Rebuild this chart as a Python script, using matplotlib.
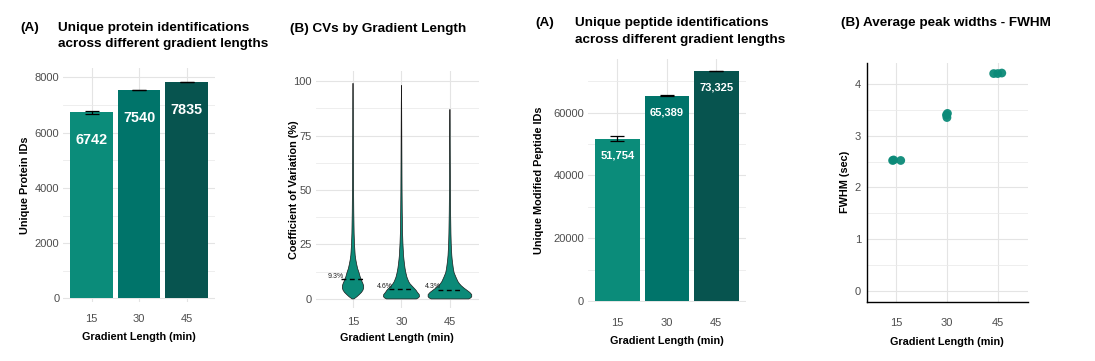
import matplotlib
matplotlib.use("Agg")
import matplotlib.pyplot as plt
from matplotlib.ticker import FixedLocator

plt.rcParams['font.family'] = ['Liberation Sans', 'DejaVu Sans']

W, H = 1095, 361

# ---- data ----
gradients = ["15", "30", "45"]
protein_ids = [6742, 7540, 7835]
protein_err = [55, 12, 10]
peptide_ids = [51754, 65389, 73325]
peptide_err = [700, 120, 100]
bar_colors = ["#0B8C7A", "#00746A", "#07544F"]

# violin outlines: CV level (%) and half width (x units) per gradient
cv_levels_15 = [0, 1, 2, 3, 4, 5, 6, 7, 8, 9, 10, 12, 14, 16, 18, 20, 25, 30, 40, 50, 60, 70, 80, 90, 99]
cv_width_15 = [0.02, 0.08, 0.13, 0.175, 0.205, 0.22, 0.22, 0.205, 0.185, 0.17, 0.15, 0.125, 0.095,
               0.075, 0.058, 0.045, 0.031, 0.023, 0.016, 0.012, 0.01, 0.008, 0.006, 0.004, 0]
cv_levels_30 = [0, 0.5, 1, 2, 3, 4, 5, 6, 7, 8, 10, 12, 14, 16, 18, 20, 25, 30, 40, 50, 60, 70, 80, 90, 98]
cv_width_30 = [0.31, 0.35, 0.37, 0.367, 0.33, 0.3, 0.258, 0.216, 0.175, 0.148, 0.113, 0.091, 0.074,
               0.062, 0.052, 0.043, 0.031, 0.023, 0.016, 0.012, 0.01, 0.008, 0.006, 0.004, 0]
cv_levels_45 = [0, 0.5, 1, 2, 3, 4, 5, 6, 7, 8, 10, 12, 14, 16, 18, 20, 25, 30, 40, 50, 60, 70, 80, 87]
cv_width_45 = [0.39, 0.43, 0.45, 0.45, 0.41, 0.35, 0.29, 0.237, 0.196, 0.165, 0.124, 0.087, 0.07,
               0.058, 0.047, 0.039, 0.027, 0.021, 0.014, 0.01, 0.008, 0.006, 0.004, 0]
cv_medians = [9.3, 4.6, 4.3]
violin_color = "#0B8A78"

# FWHM replicates (x jitter)
fwhm_group = [1, 1, 1, 2, 2, 2, 3, 3, 3]
fwhm_jitter = [-0.07, -0.05, 0.09, 0.0, -0.01, 0.01, -0.08, 0.0, 0.08]
fwhm_sec = [2.52, 2.53, 2.52, 3.35, 3.40, 3.43, 4.20, 4.20, 4.21]

TITLE = 9.7
LAB = 7.8
TICK = 8.0
GREY = "#4d4d4d"

fig = plt.figure(figsize=(W / 100, H / 100), dpi=100)


def make_axes(x0, y0, x1, y1):
    ax = fig.add_axes([x0 / W, (H - y1) / H, (x1 - x0) / W, (y1 - y0) / H])
    ax._px = (x0, y0, x1, y1)
    return ax


def style(ax, minor_y, xpad, ypad):
    for s in ax.spines.values():
        s.set_visible(False)
    ax.set_axisbelow(True)
    ax.yaxis.set_minor_locator(FixedLocator(minor_y))
    ax.grid(True, which='major', color='#e4e4e4', lw=0.8)
    ax.grid(True, which='minor', axis='y', color='#ebebeb', lw=0.6)
    ax.tick_params(which='both', length=0, labelsize=TICK, labelcolor=GREY)
    ax.tick_params(axis='x', pad=xpad)
    ax.tick_params(axis='y', pad=ypad)


def labels(ax, xlab, ylab, xl_y, yl_x):
    x0, y0, x1, y1 = ax._px
    ax.set_xlabel(xlab, fontsize=LAB, fontweight='bold')
    ax.set_ylabel(ylab, fontsize=LAB, fontweight='bold')
    ax.xaxis.label.set_va('center')
    ax.yaxis.label.set_va('center')
    ax.xaxis.set_label_coords(0.5, (y1 - xl_y) / (y1 - y0))
    ax.yaxis.set_label_coords((yl_x - x0) / (x1 - x0), 0.5)


def ftext(x, y, s, **kw):
    fig.text(x / W, 1 - y / H, s, fontsize=TITLE, fontweight='bold', va='center', **kw)


xs = [1, 2, 3]

# ---- panel 1: protein IDs ----
ax1 = make_axes(63, 68, 215, 301.7)
ax1.bar(xs, protein_ids, width=0.9, color=bar_colors, zorder=2)
ax1.errorbar(xs, protein_ids, yerr=protein_err, fmt='none', ecolor='black', elinewidth=0.9,
             capsize=5, capthick=0.9, zorder=3)
for x, v in zip(xs, protein_ids):
    ax1.annotate(str(v), (x, v), xytext=(0, -20), textcoords='offset points', ha='center',
                 va='center', color='white', fontsize=10.4, fontweight='bold', zorder=4)
ax1.set_xlim(0.4, 3.6)
ax1.set_ylim(-120, 8340)
ax1.set_xticks(xs, gradients)
ax1.set_yticks([0, 2000, 4000, 6000, 8000])
style(ax1, [1000, 3000, 5000, 7000], 9, 2.7)
labels(ax1, "Gradient Length (min)", "Unique Protein IDs", 336.7, 25)
ftext(20, 28, "(A)")
ftext(58, 28, "Unique protein identifications")
ftext(58, 44, "across different gradient lengths")

# ---- panel 2: CV violins ----
ax2 = make_axes(315.7, 71, 479, 308.3)
for x, lv, wd in zip(xs, [cv_levels_15, cv_levels_30, cv_levels_45],
                     [cv_width_15, cv_width_30, cv_width_45]):
    left = [x - w for w in wd]
    right = [x + w for w in wd]
    ax2.fill(left + right[::-1], lv + lv[::-1], facecolor=violin_color, edgecolor='#1a1a1a',
             lw=0.5, zorder=2)
for x, m in zip(xs, cv_medians):
    ax2.plot([x - 0.25, x + 0.25], [m, m], color='black', ls=(0, (3.5, 2.5)), lw=1.0, zorder=3)
    ax2.text(x - 0.35, m + 0.5, f"{m}%", fontsize=5, ha='center', va='baseline', color='#222222',
             zorder=4)
ax2.set_xlim(0.23, 3.6)
ax2.set_ylim(-4.3, 104.6)
ax2.set_xticks(xs, gradients)
ax2.set_yticks([0, 25, 50, 75, 100])
style(ax2, [12.5, 37.5, 62.5, 87.5], 6, 3)
labels(ax2, "Gradient Length (min)", "Coefficient of Variation (%)", 338, 294)
ftext(290, 29, "(B) CVs by Gradient Length")

# ---- panel 3: peptide IDs ----
ax3 = make_axes(587.7, 59.3, 746, 301.7)
ax3.bar(xs, peptide_ids, width=0.9, color=bar_colors, zorder=2)
ax3.errorbar(xs, peptide_ids, yerr=peptide_err, fmt='none', ecolor='black', elinewidth=0.9,
             capsize=5.3, capthick=0.9, zorder=3)
for x, v in zip(xs, peptide_ids):
    ax3.annotate(f"{v:,}", (x, v), xytext=(0, -11.9), textcoords='offset points', ha='center',
                 va='center', color='white', fontsize=8, fontweight='bold', zorder=4)
ax3.set_xlim(0.4, 3.6)
ax3.set_ylim(-220, 77000)
ax3.set_xticks(xs, gradients)
ax3.set_yticks([0, 20000, 40000, 60000])
style(ax3, [10000, 30000, 50000, 70000], 11.5, 2.7)
labels(ax3, "Gradient Length (min)", "Unique Modified Peptide IDs", 340.8, 539)
ftext(535, 23, "(A)")
ftext(575, 23, "Unique peptide identifications")
ftext(575, 40, "across different gradient lengths")

# ---- panel 4: FWHM ----
ax4 = make_axes(866.7, 62.7, 1027.7, 301.7)
ax4.scatter([g + j for g, j in zip(fwhm_group, fwhm_jitter)], fwhm_sec, s=40, color=violin_color,
            edgecolors='none', alpha=0.95, zorder=3)
ax4.set_xlim(0.42, 3.59)
ax4.set_ylim(-0.21, 4.41)
ax4.set_xticks(xs, gradients)
ax4.set_yticks([0, 1, 2, 3, 4])
style(ax4, [0.5, 1.5, 2.5, 3.5], 12, 4)
for side in ['left', 'bottom']:
    ax4.spines[side].set_visible(True)
    ax4.spines[side].set_color('black')
    ax4.spines[side].set_linewidth(1.0)
labels(ax4, "Gradient Length (min)", "FWHM (sec)", 341.7, 845)
ftext(841, 23.3, "(B) Average peak widths - FWHM")

fig.savefig("out.png", dpi=100)
